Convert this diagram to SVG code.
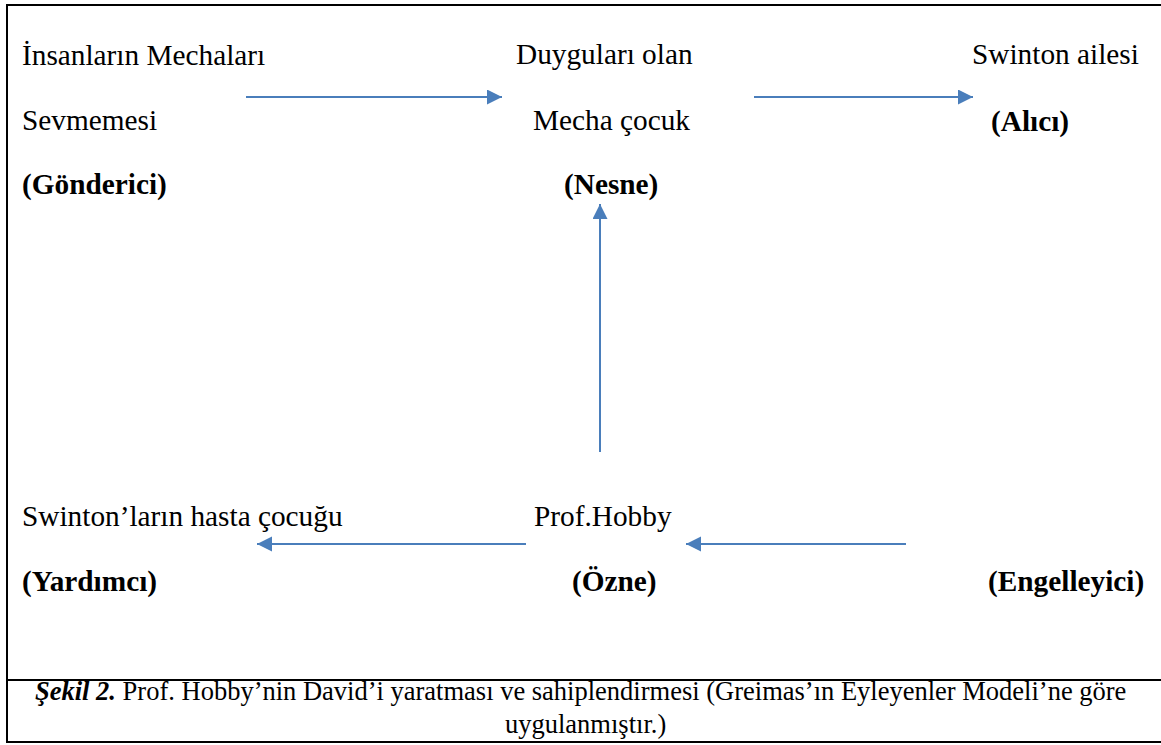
<svg xmlns="http://www.w3.org/2000/svg" width="1161" height="745" viewBox="0 0 1161 745">
<defs>
<style>
.t{font-family:"Liberation Serif","Times New Roman",serif;font-size:29.3px;fill:#000}
.b{font-weight:bold}
.cap{font-family:"Liberation Serif","Times New Roman",serif;font-size:26.5px;fill:#000}
.frame{fill:none;stroke:#000;stroke-width:2}
.arr{fill:none;stroke:#4a7ebb;stroke-width:2;marker-end:url(#ah)}
</style>
<marker id="ah" markerUnits="userSpaceOnUse" markerWidth="16" markerHeight="16" refX="15" refY="7.5" orient="auto">
<path d="M0,0 L15,7.5 L0,15 z" fill="#4a7ebb"/>
</marker>
</defs>
<rect width="1161" height="745" fill="#fff"/>
<g id="frame">
<path class="frame" d="M1170,5 H7 V742 H1170"/>
<path class="frame" d="M7,680 H1170"/>
</g>
<g id="connectors">
<path class="arr" d="M246,97 H502"/>
<path class="arr" d="M754,97 H973"/>
<path class="arr" d="M600,452 V204"/>
<path class="arr" d="M526,544 H257"/>
<path class="arr" d="M906,544 H686"/>
</g>
<g id="gonderici">
<text class="t" x="22" y="65">İnsanların Mechaları</text>
<text class="t" x="22" y="130">Sevmemesi</text>
<text class="t b" x="22" y="194">(Gönderici)</text>
</g>
<g id="nesne">
<text class="t" x="516" y="64">Duyguları olan</text>
<text class="t" x="533" y="130">Mecha çocuk</text>
<text class="t b" x="564" y="194">(Nesne)</text>
</g>
<g id="alici">
<text class="t" x="972" y="64">Swinton ailesi</text>
<text class="t b" x="991" y="131">(Alıcı)</text>
</g>
<g id="yardimci">
<text class="t" x="22" y="526">Swinton’ların hasta çocuğu</text>
<text class="t b" x="22" y="591">(Yardımcı)</text>
</g>
<g id="ozne">
<text class="t" x="534" y="526">Prof.Hobby</text>
<text class="t b" x="572" y="591">(Özne)</text>
</g>
<g id="engelleyici">
<text class="t b" x="988" y="591">(Engelleyici)</text>
</g>
<g id="caption">
<text class="cap" x="35" y="700"><tspan font-weight="bold" font-style="italic">Şekil 2.</tspan> Prof. Hobby’nin David’i yaratması ve sahiplendirmesi (Greimas’ın Eyleyenler Modeli’ne göre</text>
<text class="cap" x="505" y="733">uygulanmıştır.)</text>
</g>
</svg>
